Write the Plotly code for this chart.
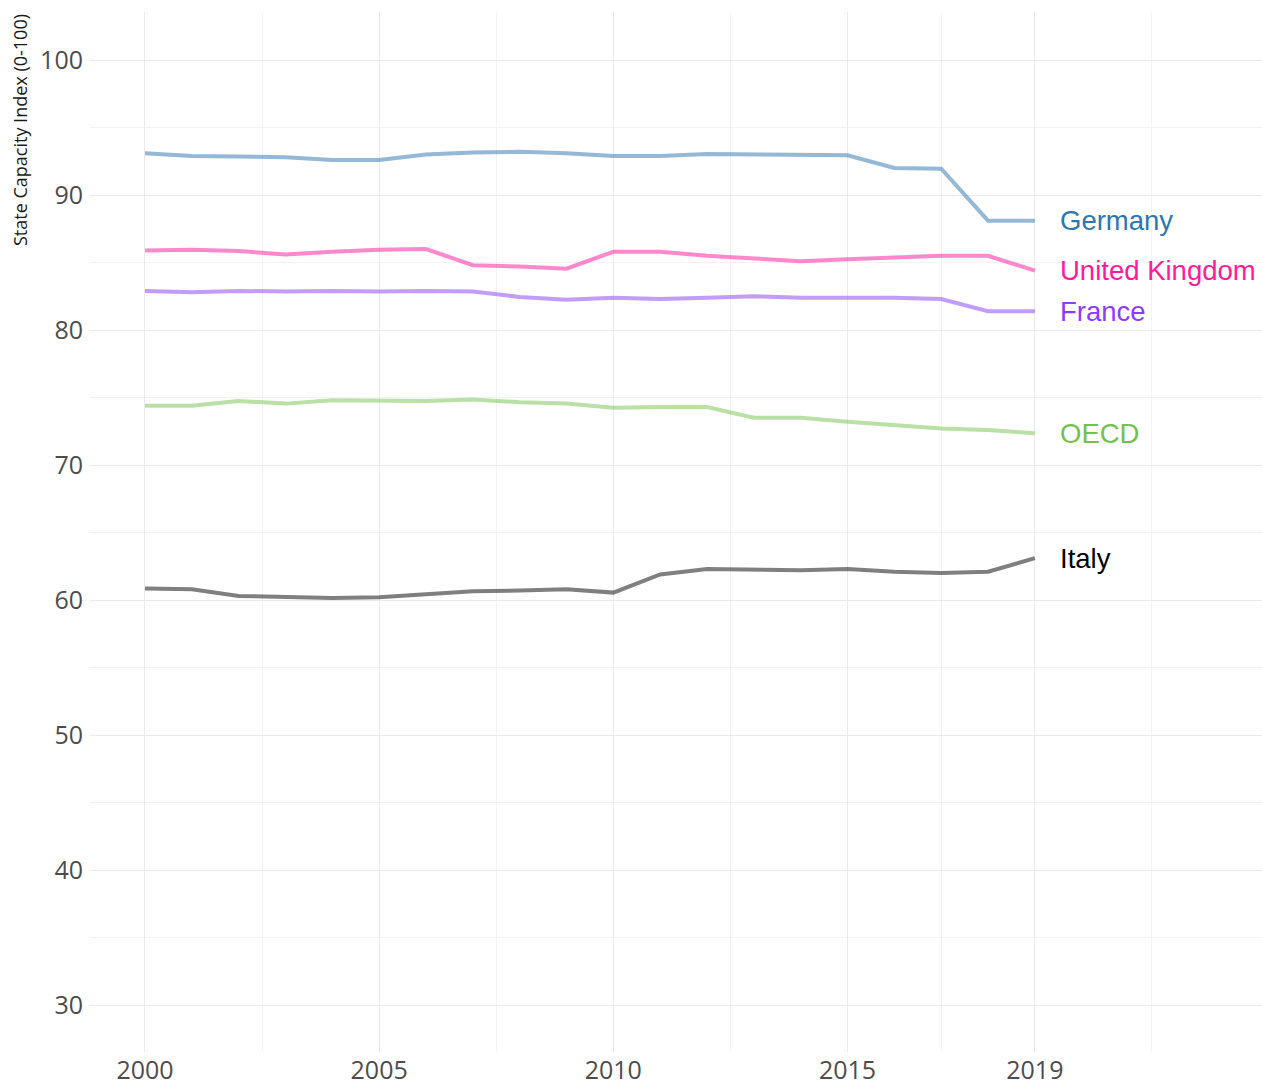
import plotly.graph_objects as go

years = list(range(2000, 2020))

germany = [93.1, 92.9, 92.85, 92.8, 92.6, 92.6, 93.0, 93.15, 93.2, 93.1,
           92.9, 92.9, 93.05, 93.0, 93.0, 92.95, 92.0, 91.95, 88.1, 88.1]
uk = [85.9, 85.95, 85.85, 85.6, 85.8, 85.95, 86.0, 84.8, 84.7, 84.55,
      85.8, 85.8, 85.5, 85.3, 85.1, 85.25, 85.35, 85.5, 85.5, 84.4]
france = [82.9, 82.8, 82.9, 82.85, 82.9, 82.85, 82.9, 82.85, 82.45, 82.25,
          82.4, 82.3, 82.4, 82.5, 82.4, 82.4, 82.4, 82.3, 81.4, 81.4]
oecd = [74.4, 74.4, 74.75, 74.55, 74.8, 74.75, 74.75, 74.85, 74.65, 74.55,
        74.25, 74.3, 74.3, 73.5, 73.5, 73.2, 72.95, 72.7, 72.6, 72.35]
italy = [60.85, 60.8, 60.3, 60.25, 60.15, 60.2, 60.4, 60.65, 60.7, 60.8,
         60.55, 61.9, 62.3, 62.25, 62.2, 62.3, 62.1, 62.0, 62.1, 63.1]

series_names = ["Germany", "United Kingdom", "France", "OECD", "Italy"]
series_values = [germany, uk, france, oecd, italy]
line_colors = ["rgba(43,113,173,0.5)", "rgba(255,17,153,0.5)", "rgba(133,57,255,0.5)",
               "rgba(115,193,75,0.5)", "rgba(0,0,0,0.5)"]
label_colors = ["#2c77b0", "#ff1a9c", "#8c3cff", "#76c04e", "#000000"]

x_ticks = [2000, 2005, 2010, 2015, 2019]
x_minor = [2002.5, 2007.5, 2012.5, 2017, 2021.5]
y_ticks = [30, 40, 50, 60, 70, 80, 90, 100]
y_minor = [35, 45, 55, 65, 75, 85, 95]
label_x = 2019.5

fig = go.Figure()
for name, vals, lc in zip(series_names, series_values, line_colors):
    fig.add_trace(go.Scatter(x=years, y=vals, mode="lines", name=name,
                             line=dict(color=lc, width=4), showlegend=False,
                             hoverinfo="skip"))

for name, vals, tc in zip(series_names, series_values, label_colors):
    fig.add_annotation(x=label_x, y=vals[-1], text=name, showarrow=False,
                       xanchor="left", yanchor="middle",
                       font=dict(family="Liberation Sans, Arial, sans-serif", size=27.5, color=tc))

fig.add_annotation(xref="paper", yref="paper", x=0, y=1, xshift=-70, yshift=0,
                   text="State Capacity Index (0-100)", textangle=-90, showarrow=False,
                   xanchor="center", yanchor="top",
                   font=dict(family="Open Sans", size=18, color="#1a1a1a"))

grid_c = "#ebebeb"
fig.update_xaxes(range=[1998.826, 2023.85], tickvals=x_ticks, ticktext=[str(v) for v in x_ticks],
                 showgrid=True, gridcolor=grid_c, gridwidth=1, zeroline=False, showline=False,
                 ticks="", tickfont=dict(family="Open Sans", size=25, color="#4d4d4d"),
                 ticklabelstandoff=1,
                 minor=dict(tickvals=x_minor, showgrid=True, gridcolor="#f3f3f3", gridwidth=1),
                 automargin=False)
fig.update_yaxes(range=[26.52, 103.56], tickvals=y_ticks, ticktext=[str(v) for v in y_ticks],
                 showgrid=True, gridcolor=grid_c, gridwidth=1, zeroline=False, showline=False,
                 ticks="", tickfont=dict(family="Open Sans", size=25, color="#4d4d4d"),
                 ticklabelstandoff=6,
                 minor=dict(tickvals=y_minor, showgrid=True, gridcolor="#f3f3f3", gridwidth=1),
                 automargin=False)

fig.update_layout(width=1262, height=1082, margin=dict(l=90, r=0, t=12, b=30),
                  plot_bgcolor="white", paper_bgcolor="white", hovermode=False)

fig.write_html("out.html", config={"displayModeBar": False},
               post_script="document.body.style.margin='0px';"
                           "document.documentElement.style.overflow='hidden';")
